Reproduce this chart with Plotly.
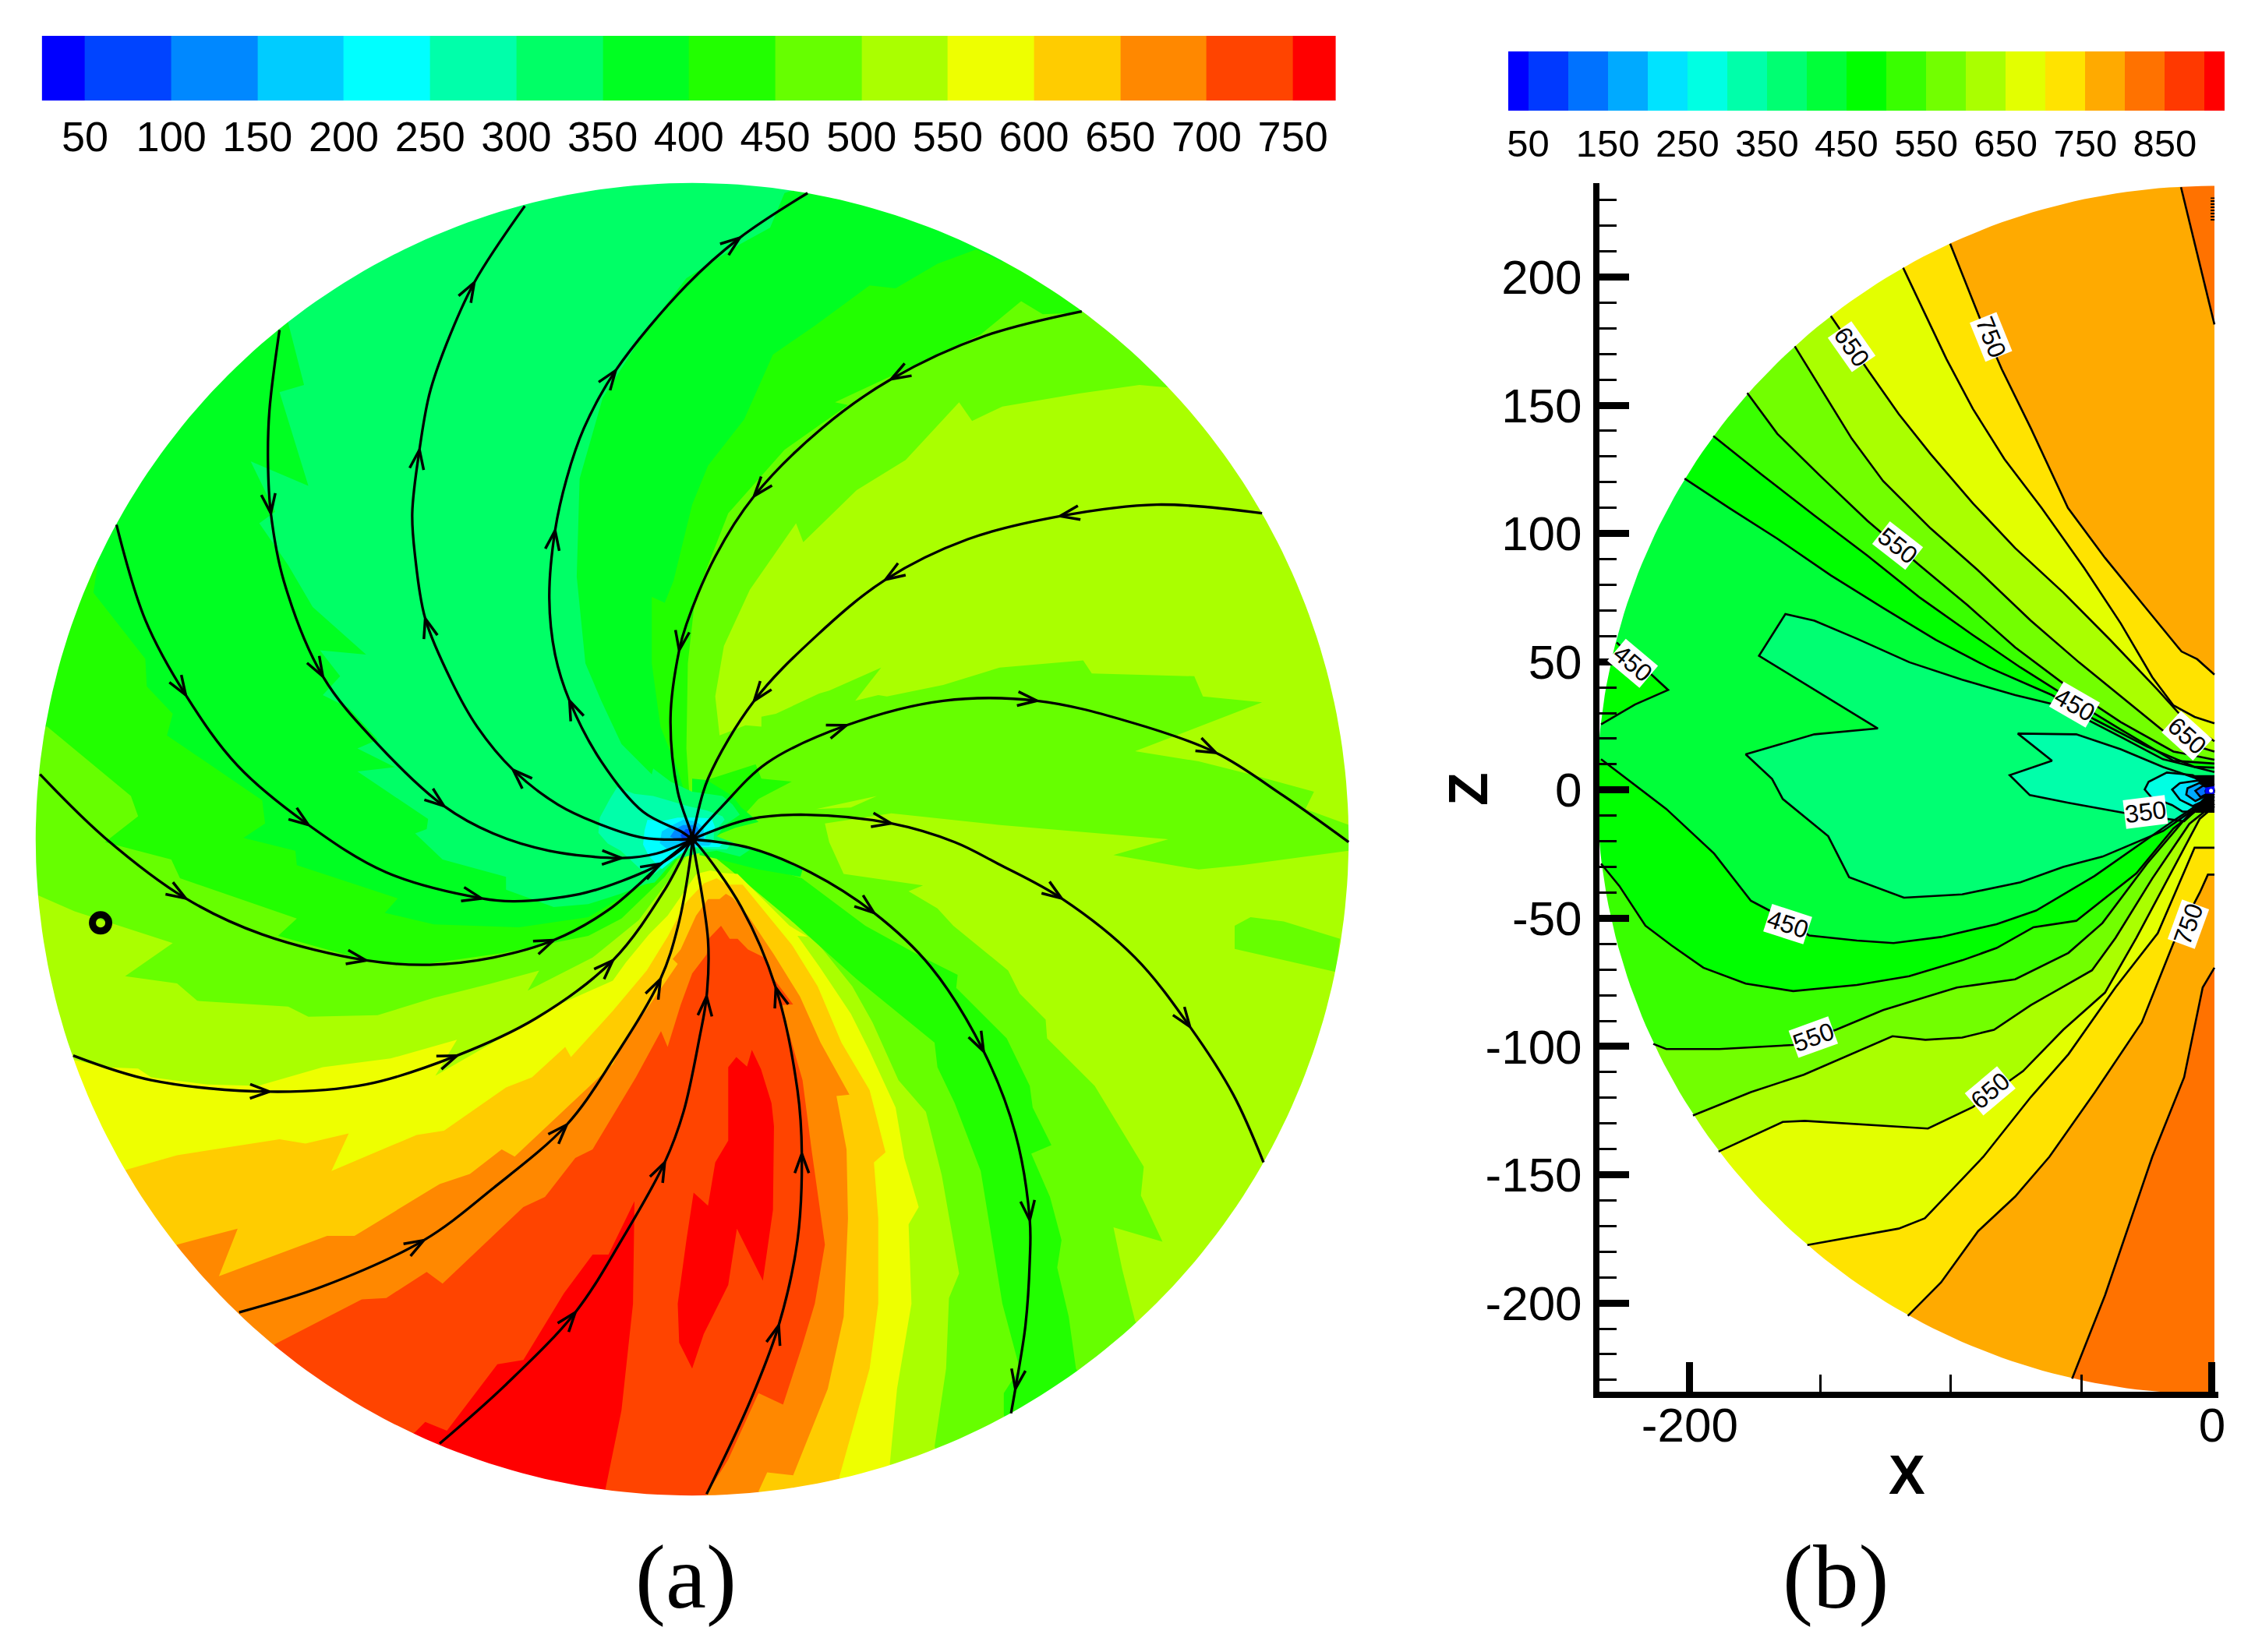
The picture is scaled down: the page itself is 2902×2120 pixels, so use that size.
import numpy as np
import plotly.graph_objects as go

W, H = 2902, 2120

# ---------- colour bars ----------
LEFT_LEVELS = [25] + list(range(50, 800, 50)) + [775]
LEFT_COLORS = ["#0000ff", "#0044ff", "#0088ff", "#00ccff", "#00ffff", "#00ffaa", "#00ff66", "#00ff22",
               "#22ff00", "#66ff00", "#aaff00", "#eeff00", "#ffcc00", "#ff8800", "#ff4400", "#ff0000"]
LEFT_TICKS = list(range(50, 800, 50))
RIGHT_LEVELS = [25] + list(range(50, 950, 50)) + [925]
RIGHT_COLORS = ["#0000ff", "#0039ff", "#0072ff", "#00aaff", "#00e3ff", "#00ffe3", "#00ffaa", "#00ff72",
                "#00ff39", "#00ff00", "#39ff00", "#72ff00", "#aaff00", "#e3ff00", "#ffe300", "#ffaa00",
                "#ff7200", "#ff3900", "#ff0000"]
RIGHT_TICKS = list(range(50, 900, 100))

# ---------- panel (a): regions of the disk, painted in order over a 500-550 base ----------
DISK_RADIUS_A = 455
A_LE_500 = [(0,0),(-1,-8),(-37,-56),(-69,-82),(-114,-105),(-106,-91),(-139,-100),(-179,-110),(-218,-122),(-266,-123),
 (-280,-116),(-343,-112),(-357,-100),(-393,-95),(-360,-72),(-428,-50),(-453,-39),(-520,-40),(-520,520),(380,520),(380,360),
 (331,313),(310,315),(268,309),(215,300),(194,290),(185,303),(148,263),(114,242),(77,206),(72,219),(40,173),(22,134),(16,99),
 (19,72),(37,79),(48,78),(48,85),(58,87),(88,101),(95,103),(131,119),(113,96),(129,100),(135,99),(174,107),(213,119),(271,124),
 (277,115),(348,113),(354,99),(395,95),(307,61),(351,54),(387,45),(431,33),(425,21),(455,10),(520,10),(520,-20),(455,-8),
 (381,-18),(351,-21),(292,-11),(330,0),(212,10),(138,18),(92,11),(95,-2),(105,-24),(160,-32),(150,-36),(170,-48),(181,-60),
 (219,-91),(227,-107),(245,-125),(246,-138),(279,-171),(313,-227),(311,-247),(326,-279),(292,-269),(298,-298),(307,-334),
 (350,-380),(190,-480),(168,-421),(176,-367),(178,-318),(185,-301),(173,-233),(162,-189),(143,-167),(125,-127),(111,-102),
 (91,-77),(75,-59),(57,-42),(37,-24),(13,-11)]
A_PATCH_500 = [(376,-60),(387,-54),(410,-57),(449,-69),(446,-92),(376,-76)]
A_STREAK_550 = [(86,21),(128,30),(110,22)]
A_LE_450_MAIN = [(0,0),(-19,-26),(-49,-55),(-72,-67),(-132,-79),(-188,-87),(-226,-84),(-287,-67),(-274,-55),(-355,-27),(-361,-14),
 (-407,-2),(-384,16),(-389,30),(-447,78),(-520,80),(-520,520),(320,520),(300,400),(270,365),(243,364),(228,373),(200,350),
 (138,321),(99,303),(108,301),(64,270),(25,226),(11,190),(2,167),(-3,122),(-4,63)]
A_LE_450_LOWER = [(0,0),(25,-12),(76,-27),(120,-60),(160,-82),(184,-94),(183,-103),(218,-138),(234,-171),(236,-186),(249,-212),
 (235,-218),(248,-248),(256,-278),(253,-297),(261,-331),(266,-367),(300,-420),(235,-460),(216,-399),(216,-384),(227,-367),
 (215,-322),(200,-230),(182,-183),(170,-158),(168,-141),(114,-97),(67,-55),(25,-20)]
A_LE_450_SPOT = [(3,3),(5,35),(10,41),(19,44),(44,52),(48,42),(69,40),(46,28),(33,13.5),(17,2)]
A_LE_400 = [(0,0),(-40,-35),(-72,-54),(-120,-61),(-179,-59),(-213,-51),(-204,-41),(-274,-18),(-275,-8),(-311,1),(-296,11),(-298,27),
 (-364,72),(-360,87),(-378,106),(-379,125),(-415,171),(-412,190),(-520,190),(-520,520),(220,520),(215,400),(197,409),(170,399),
 (141,382),(123,384),(85,356),(56,336),(48,318),(36,291),(11,259),(0,232),(-13,179),(-19,164),(-28,168),(-28,122),(-22,78),
 (-10,48),(-1,19)]
A_LE_400_NE = [(0,42),(10,41),(28,30),(34,22),(46,12),(30,8),(10,0),(0,0)]
A_LE_400_STREAK = [(6,-6),(42,-6),(76.5,-21),(75,-26),(46,-21),(17,-13.5),(5,-11)]
A_LE_400_TOP = [(-56,451),(-52,441),(-49,451),(-49,470),(-56,470)]
A_LE_350 = [(3,-10),(-4.5,-12),(-12,-14),(-26,-30),(-32,-31),(-50,-38),(-72,-45),(-96,-47),(-129,-35),(-129,-26),(-173,-14),(-192,4),(-184,7),(-183,14),(-232,47),(-206,50),
 (-232,63),(-218,69),(-238,91),(-256,100),(-244,113),(-258,131),(-226,128),(-263,161),(-280,190),(-300,219),(-289,227),
 (-306,262),(-266,245),(-286,310),(-269,315),(-280,358),(-320,420),(-320,520),(70,520),(70,450),(64,448),(54,424),(34,413),
 (-4,389),(-34,350),(-62,306),(-78,250),(-80,182),(-74,122),(-63,96),(-49,66),(-28,45),(-27,49),(-15,40),(0,33),(21,30),(28,24),
 (33,17),(23,10),(17,2),(40.5,-7),(33,-12),(17,-8)]
A_LE_300 = [(-65,4.5),(-64,15),(-57,28),(-52,36),(-40,31.5),(-27,30),(-13.5,26),(-3,23),(10,20),(21,16),(22.5,13.5),(15,4.5),(15,-2),
 (26,-4.5),(24,-7),(13.5,-7),(6,-6),(-6,-7),(-15,-15),(-26,-24),(-35,-21.6),(-49.5,-8),(-58.5,-3)]
A_LE_250 = [(-34,-3.6),(-33,6),(-31,13.5),(-21,12.6),(-10,15),(2.7,15),(13.5,14.4),(16,8),(10,2.7),(8,-1),(21,-2.7),(19,-5.4),(10,-5.4),
 (-1,-5.4),(-10,-11.7),(-21,-20.7),(-30,-11.7)]
A_LE_200 = [(-22.5,-2.7),(-21,5.4),(-13.5,9.9),(-6.3,13.5),(2.7,12.6),(8,8),(8,1),(13.5,-2.7),(11.7,-4.5),(2.7,-4.5),(-8,-4.5),(-17,-7)]
A_LE_150 = [(-15.3,1.8),(-11.7,7),(-6.3,9.9),(2.7,9.9),(5.4,5.4),(2.7,-3.6),(-8,-1.8)]
A_LE_100 = [(-8,2.7),(-4.5,7),(1.8,7),(2.7,2.7),(1.8,-1.8),(-6.3,-0.9)]
A_GE_550 = [(3,-24),(-6,-37),(-17,-53),(-30,-66),(-46,-85.5),(-55,-98),(-93,-115),(-138,-141),(-178,-164),(-163,-139),(-209,-152),(-256,-158),
 (-301,-171),(-336,-170),(-375,-165),(-384,-159),(-407,-158),(-428,-153),(-500,-180),(-500,-520),(160,-520),(160,-480),
 (137,-433),(142,-381),(152,-322),(150,-267),(157,-255),(147,-221),(141,-186),(123,-147),(110,-121),(88,-88),(73,-67),(80,-67.5),
 (67.5,-60),(49.5,-42),(31.5,-24),(21,-23.4),(12.6,-21.6)]
A_GE_600 = [(8,-30.6),(-4.5,-44),(-17,-67.5),(-31.5,-91),(-55,-119),(-84,-151),(-88,-144),(-111,-165),(-129,-172),(-172,-202),(-191,-205),
 (-250,-230),(-238,-204),(-268,-211),(-286,-208),(-357,-219),(-392,-229),(-480,-280),(-480,-520),(120,-520),(110,-480),
 (102,-442),(123,-367),(129,-322),(129,-263),(126,-224),(134,-217),(123,-174),(103.5,-141),(87,-102),(69,-73),(49.5,-49.5),
 (35,-31.5),(24,-31.5),(17,-27)]
A_GE_650 = [(11,-41.4),(2.7,-53),(-8,-76.5),(-13.5,-83),(-10,-86.4),(-33,-120),(-46,-138),(-55,-156),(-90,-189),(-123,-220),(-132,-215),(-154,-232),(-175,-239),(-234,-275),
 (-253,-275),(-328,-303),(-315,-270),(-357,-281),(-420,-330),(-420,-520),(80,-520),(60,-470),(46,-452),(52,-439),(70,-441),
 (94,-381),(105,-331),(108,-263),(107,-215),(100,-178),(109,-177),(89,-141),(74.7,-109),(56.7,-80),(38.7,-53),(28,-40.5),
 (23.4,-37.8),(19,-41.4)]
A_GE_700 = [(12,-68.4),(10,-80),(0,-93),(-8,-115),(-17,-144),(-21.6,-133),(-39,-165),(-69,-215),(-81,-221),(-102,-248),(-117,-255),(-138,-275),(-173,-308),
 (-184,-300),(-212,-318),(-229,-319),(-289,-350),(-330,-400),(-330,-520),(0,-520),(10,-454),(25,-430),(46,-384),(63,-392),
 (76,-352),(85,-322),(92,-281),(83,-217),(76.5,-167),(69,-141),(62,-115),(70,-114.5),(56.7,-97),(50,-82),(38.7,-76.5),
 (31.5,-69),(26,-69),(20,-60)]
A_GE_750_WEST = [(-192,-411),(-185,-404),(-170,-410),(-135,-364),(-117,-361),(-89,-315),(-69,-288),(-58,-288),(-40,-251),(-41,-322),
 (-49,-396),(-60,-450),(-60,-520),(-230,-520),(-230,-440)]
A_GE_750_EAST = [(25,-158),(30.6,-151),(38,-157.6),(41.4,-146),(47.7,-159.4),(55,-183),(56.7,-199),(56,-257),(49,-306),(31,-270),(25,-309),(8,-343),(0,-367),(-9,-349),(-10,-322),
 (-4,-278),(1,-245),(11,-254),(16,-224),(25,-209)]

A_REGIONS = [(A_LE_500, 9), (A_PATCH_500, 9), (A_STREAK_550, 10), (A_LE_450_MAIN, 8), (A_LE_450_LOWER, 8), (A_LE_450_SPOT, 8),
             (A_LE_400, 7), (A_LE_400_NE, 7), (A_LE_400_STREAK, 7), (A_LE_400_TOP, 7), (A_LE_350, 6), (A_LE_300, 5), (A_LE_250, 4),
             (A_LE_200, 3), (A_LE_150, 2), (A_LE_100, 1), (A_GE_550, 11), (A_GE_600, 12), (A_GE_650, 13), (A_GE_700, 14),
             (A_GE_750_WEST, 15), (A_GE_750_EAST, 15)]

# streamlines in flow order, with the indices of the points that carry an arrowhead
STREAMS = [
 ([(0,0),(-34,1),(-63,10),(-93,24),(-124,48),(-149,78),(-167,110),(-185,153),(-192,196),(-194,226),(-189,270),(-182,309),(-170,344),(-151,386),(-116,439)], [4,7,10,13]),
 ([(0,0),(-7,5),(-34,19),(-63,54),(-85,96),(-95,128),(-99,167),(-95,214),(-87,250),(-75,285),(-53,325),(-4,384),(33,417),(80,448)], [4,7,10,12]),
 ([(-286,353),(-293,297),(-294,262),(-292,226),(-283,179),(-256,113),(-218,66),(-172,23),(-138,4),(-99,-8),(-49,-13),(-25,-10),(-4,-2),(0,0)], [3,5,7,10]),
 ([(-399,218),(-379,152),(-351,100),(-315,51),(-266,10),(-212,-23),(-146,-41),(-123,-43),(-78,-38),(-49,-29),(-22,-17),(-4,-4),(0,0)], [2,4,6,10]),
 ([(-452,45),(-407,1),(-351,-41),(-298,-66),(-226,-84),(-182,-87),(-138,-82),(-96,-70),(-58,-49),(-19,-15),(0,0)], [2,4,7]),
 ([(-429,-150),(-375,-167),(-293,-175),(-226,-170),(-163,-150),(-108,-124),(-55,-84),(-19,-35),(-3,-5),(0,0)], [2,4,6]),
 ([(-314,-328),(-256,-310),(-186,-278),(-138,-242),(-87,-198),(-55,-153),(-22,-97),(-10,-61),(-1,-11),(0,0)], [2,4,6]),
 ([(-175,-419),(-129,-378),(-81,-328),(-49,-278),(-19,-224),(-6,-189),(5,-138),(10,-109),(11,-70),(2,-11),(0,0)], [2,4,7]),
 ([(10,-454),(40,-390),(60,-337),(73,-278),(76,-218),(73,-174),(58,-103),(34,-47),(5,-5),(0,0)], [2,4,6]),
 ([(0,0),(40,-6),(82,-23),(126,-51),(165,-88),(202,-147),(224,-204),(234,-264),(234,-292),(231,-337),(224,-381),(221,-398)], [3,5,7,10]),
 ([(0,0),(40,14),(79,17),(138,11),(182,-2),(212,-17),(256,-41),(307,-82),(345,-130),(375,-177),(396,-224)], [3,6,8]),
 ([(0,0),(20,22),(52,53),(107,79),(174,96),(239,96),(301,82),(363,60),(410,30),(455,-2)], [3,5,7]),
 ([(395,226),(322,232),(255,224),(191,208),(134,180),(85,140),(43,96),(11,42),(2,10),(0,0)], [2,4,6]),
 ([(270,366),(203,349),(138,319),(90,285),(43,238),(16,196),(-4,149),(-9,131),(-15,84),(-10,33),(-1,5),(0,0)], [2,4,7]),
]
RING_POINT = (-410, -58)
ARROW_LENGTH = 14.3
ARROW_HALF_ANGLE = np.radians(20)

# ---------- panel (b): contour lines (X, Z), from the rim towards the origin ----------
DISK_RADIUS_B = 235.5
UP_800 = [(-11.9,235),(0.9,181.5)]
LO_800 = [(-53.6,-229.5),(-41,-197),(-22.9,-143),(-10.7,-112),(-3.6,-77),(0.9,-69.3)]
UP_750 = [(-100.3,213),(-93.6,196),(-87.6,180.5),(-80.5,164),(-69.4,141),(-55.2,110),(-41,90.5),(-27,73),(-11.7,54),(-5.7,51),(0.9,45)]
LO_750 = [(-116.5,-205),(-103.8,-192),(-89.6,-172),(-75.4,-158.5),(-62.3,-143),(-45,-118),(-26.9,-90.6),(-14.8,-59.7),(-4.7,-40),(-1.6,-33),(0.9,-33)]
UP_700 = [(-118.3,203.6),(-109.8,185.4),(-101.7,168),(-91.6,148.6),(-79.5,129),(-65.3,110),(-49,86.6),(-35,65),(-22.9,44),(-14.8,33),(-6.7,28.5),(0.9,26)]
LO_700 = [(-155,-177.4),(-136,-174),(-120,-171),(-110,-167),(-87.6,-143),(-69.4,-119.7),(-55,-103),(-37,-77),(-20.8,-55.8),(-9.7,-29.6),(-6.7,-22.5),(0.9,-22.5)]
UP_650 = [(-146,184.8),(-132,164),(-120,146.6),(-107.8,131),(-91.6,111.8),(-75.4,94.3),(-57,77),(-39,58.5),(-20.8,39),(-9.7,26.5),(0.9,19)]
LO_650 = [(-189,-141),(-164.4,-129.4),(-156,-129),(-108.8,-132),(-91.6,-123.6),(-72.4,-109.6),(-57,-93.5),(-41,-79),(-29,-57.7),(-16.8,-34.5),(-4.7,-11.2),(0.9,-6.4)]
UP_600 = [(-159.8,173),(-148,153.4),(-138,137),(-126,120.5),(-107.8,102),(-89.6,85.6),(-69.4,66),(-51,49.8),(-33,35),(-14.8,19.8),(0.9,15)]
LO_600 = [(-198.8,-126.9),(-176.6,-117.8),(-156.4,-111),(-122.4,-96),(-109.8,-97.4),(-95.7,-96.5),(-83.5,-93.5),(-69.4,-83.9),(-46,-70.3),(-37,-57.7),(-22.9,-34.5),(-8.7,-13.2),(0.9,-5.4)]
UP_550 = [(-178,154.8),(-166.5,138.9),(-150,122.4),(-132,105),(-111.9,87.5),(-93.6,72),(-75.4,55.6),(-55,40),(-35,26.5),(-14.8,15),(0.9,11.8)]
LO_550 = [(-214,-99),(-209,-101),(-188.7,-101),(-160.4,-99.4),(-144,-93.5),(-126,-85.8),(-97.7,-77),(-75.4,-73.8),(-55,-63.5),(-42,-51.9),(-24.9,-28.7),(-8.7,-9.3),(0.9,-3.9)]
UP_500 = [(-191,138),(-172.5,123),(-152.3,107),(-132,91.4),(-111.9,75),(-91.6,60.4),(-73.4,47.8),(-55,36),(-35,23.6),(-14.8,11.4),(0.9,10.3)]
LO_500 = [(-234,-28.7),(-227,-37.4),(-217,-52.9),(-207,-60.6),(-194.8,-69.3),(-178.6,-75.5),(-160.4,-78.4),(-136,-76),(-116,-72.6),(-95.7,-66.4),(-82.5,-61.6),(-68.4,-53.5),(-52,-51),(-42,-43),(-29,-32.5),(-14.8,-15),(0.9,-2.5)]
UP_450 = [(-202,121.4),(-184.7,109.8),(-166.5,98),(-146,83.7),(-126,71),(-105.8,58.5),(-85.6,47.8),(-61.3,37),(-45,27.5),(-24.9,16.9),(-6.7,9),(0.9,8.7)]
LO_450 = [(-234,12),(-209,-7.4),(-190.7,-24.8),(-176.6,-43.2),(-169.5,-47),(-154.3,-56.7),(-136,-58.7),(-122,-59.7),(-103.8,-57.3),(-82.5,-52.3),(-67.4,-47),(-45,-33.5),(-14.8,-12),(0.9,-1.5)]
POCKET_450 = [(-234,25.6),(-221,33.3),(-208.3,39),(-228,57.5)]
LOOP_400 = [(0.9,7),(-18.8,12),(-35,20.7),(-46,26.5),(-59,33),(-75.4,37),(-95.7,43),(-115.9,49.8),(-136,59),(-152.3,66),(-163.4,68.6),
 (-173.5,52.3),(-128,24),(-152.3,21.7),(-178.6,13.9),(-168.5,4.3),(-164.4,-3.5),(-147,-18),(-139,-34),(-118,-42),(-95.7,-40.7),
 (-73.4,-36),(-57,-30),(-42,-26),(-18.8,-16),(-6.7,-7.4),(0.9,-0.6)]
LOOP_350 = [(0.9,2),(-2.6,3.3),(-18.8,9),(-35,15.9),(-52,21.7),(-74.4,22),(-61.3,11.4),(-77.5,5.8),(-69.8,-2),(-55,-5),(-34,-8.9),
 (-17.8,-11.2),(-10.7,-12.2),(-2,-4),(0.9,-0.6)]
LOOP_300 = [(0.9,0),(-7.4,5.8),(-17.3,6.8),(-24.3,3.2),(-25.8,0.2),(-23.3,-2.8),(-15.3,-5.9),(-11.4,-8.4),(-7.4,-8.4),(-1.4,-4)]
LOOP_250 = [(0.9,0),(-5.4,3.7),(-12.3,2.7),(-15.3,0.2),(-12.3,-3.8),(-7.4,-6.3),(-4.4,-4.8),(-1.4,-1.8)]
LOOP_200 = [(0.9,0),(-4.9,2.7),(-9.4,0.7),(-9.9,-1.8),(-6.4,-4.3),(-3.4,-2.8)]
LOOP_150 = [(0.9,0),(-3.4,1.7),(-6.4,-0.3),(-4.4,-2.8)]
CORE_DARK = [(-7.4,5.8),(0.9,5.8),(0.9,-8.9),(-6.4,-8.9),(-4.4,-4.8),(-2.4,-2.8),(-2.9,-0.3),(-1.9,1.7),(-6.4,4.2)]
CORE_BLUE = [(-2.6,0.9),(0.9,1.5),(0.9,-1.5),(-2.6,-1.4)]
CORE_SPOT = (-0.4, -0.3)
CONTOUR_LABELS = [("650",-138,172.8,55),("750",-84.5,176.6,68),("550",-120.5,95.3,38),("450",-52.8,33.3,30),("650",-9.7,21.1,42),
                  ("450",-222,49.4,40),("350",-25.5,-8.7,-7),("450",-162.4,-52.3,18),("550",-152.7,-96.5,-20),
                  ("650",-85,-117.4,-40),("750",-9.1,-52.3,-70)]
Z_TICKS = list(range(-200, 250, 50))
X_TICKS = [-200, 0]

# ---------- helpers ----------
def xdom(a, b): return [a / W, b / W]
def ydom(top, bottom): return [1 - bottom / H, 1 - top / H]
def split(points): return [p[0] for p in points], [p[1] for p in points]

def fill_trace(points, color, xa, ya):
    xs, ys = split(points)
    return go.Scatter(x=xs + xs[:1], y=ys + ys[:1], mode="lines", line=dict(width=0, color=color), fill="toself",
                      fillcolor=color, hoverinfo="skip", showlegend=False, xaxis=xa, yaxis=ya)

def line_trace(points, xa, ya, width=2.6):
    xs, ys = split(points)
    return go.Scatter(x=xs, y=ys, mode="lines", line=dict(width=width, color="black"), hoverinfo="skip",
                      showlegend=False, xaxis=xa, yaxis=ya)

def outside(up, lo):
    a, b = up[0], lo[0]
    return up + lo[::-1] + [(b[0] * 1.4, b[1] * 1.4), (-400, -400), (-400, 400), (a[0] * 1.4, a[1] * 1.4)]

def scale_colors(colors):
    n = len(colors)
    out = []
    for i, c in enumerate(colors):
        out += [[i / n, c], [(i + 1) / n, c]]
    return out

fig = go.Figure()

# panel (a)
fig.add_trace(fill_trace([(-520,-520),(520,-520),(520,520),(-520,520)], LEFT_COLORS[10], "x", "y"))
for poly, idx in A_REGIONS:
    fig.add_trace(fill_trace(poly, LEFT_COLORS[idx], "x", "y"))
ang = np.radians(np.arange(225, 225 - 361, -1))
mask_a = [(-540,-540),(540,-540),(540,540),(-540,540),(-540,-540)] + \
         [(DISK_RADIUS_A * np.cos(t), DISK_RADIUS_A * np.sin(t)) for t in ang]
fig.add_trace(fill_trace(mask_a, "#ffffff", "x", "y"))
for pts, arrows in STREAMS:
    xs, ys = split(pts)
    fig.add_trace(go.Scatter(x=xs, y=ys, mode="lines", line=dict(width=3.3, color="black", shape="spline", smoothing=1.0),
                             hoverinfo="skip", showlegend=False, xaxis="x", yaxis="y"))
    bx, by = [], []
    for i in arrows:
        j = min(i + 1, len(pts) - 1)
        back = np.arctan2(ys[i - 1] - ys[j], xs[i - 1] - xs[j])
        for sign in (-1, 1):
            a = back + sign * ARROW_HALF_ANGLE
            bx += [xs[i] + ARROW_LENGTH * np.cos(a), xs[i], None]
            by += [ys[i] + ARROW_LENGTH * np.sin(a), ys[i], None]
    fig.add_trace(go.Scatter(x=bx, y=by, mode="lines", line=dict(width=3.5, color="black"), hoverinfo="skip",
                             showlegend=False, xaxis="x", yaxis="y"))
fig.add_trace(go.Scatter(x=[0], y=[0], mode="markers", hoverinfo="skip", showlegend=False, xaxis="x", yaxis="y",
                         marker=dict(size=13, color="black")))
fig.add_trace(go.Scatter(x=[RING_POINT[0]], y=[RING_POINT[1]], mode="markers", hoverinfo="skip", showlegend=False,
                         xaxis="x", yaxis="y", marker=dict(symbol="circle-open", size=21, color="black", line=dict(width=9, color="black"))))

# panel (b)
C = RIGHT_COLORS
fig.add_trace(fill_trace([(-300,-300),(5,-300),(5,300),(-300,300)], C[16], "x2", "y2"))
for up, lo, idx in [(UP_800, LO_800, 15), (UP_750, LO_750, 14), (UP_700, LO_700, 13), (UP_650, LO_650, 12),
                    (UP_600, LO_600, 11), (UP_550, LO_550, 10), (UP_500, LO_500, 9)]:
    fig.add_trace(fill_trace(outside(up, lo), C[idx], "x2", "y2"))
v450 = UP_450 + LO_450[::-1] + [(-320, 12), (-320, 25.6)] + POCKET_450 + [(-320, 57.5), (-400, 400), (UP_450[0][0] * 1.4, UP_450[0][1] * 1.4)]
fig.add_trace(fill_trace(v450, C[8], "x2", "y2"))
for loop, idx in [(LOOP_400, 7), (LOOP_350, 6), (LOOP_300, 5), (LOOP_250, 4), (LOOP_200, 3), (LOOP_150, 2)]:
    fig.add_trace(fill_trace(loop, C[idx], "x2", "y2"))
ang_b = np.radians(np.arange(270, 89, -1))
mask_b = [(6,-320),(6,320),(-320,320),(-320,-320),(6,-320)] + [(0.9, -DISK_RADIUS_B)] + \
         [(DISK_RADIUS_B * np.cos(t), DISK_RADIUS_B * np.sin(t)) for t in ang_b] + [(0.9, DISK_RADIUS_B), (0.9, -DISK_RADIUS_B)]
fig.add_trace(fill_trace(mask_b, "#ffffff", "x2", "y2"))
for ln in [UP_800, LO_800, UP_750, LO_750, UP_700, LO_700, UP_650, LO_650, UP_600, LO_600, UP_550, LO_550, UP_500, LO_500,
           UP_450, LO_450, POCKET_450, LOOP_400, LOOP_350, LOOP_300 + LOOP_300[:1], LOOP_250 + LOOP_250[:1],
           LOOP_200 + LOOP_200[:1], LOOP_150 + LOOP_150[:1]]:
    fig.add_trace(line_trace(ln, "x2", "y2"))
fig.add_trace(fill_trace(CORE_DARK, "#000000", "x2", "y2"))
fig.add_trace(fill_trace(CORE_BLUE, "#0000ff", "x2", "y2"))
fig.add_trace(go.Scatter(x=[CORE_SPOT[0]], y=[CORE_SPOT[1]], mode="markers", hoverinfo="skip", showlegend=False, xaxis="x2", yaxis="y2",
                         marker=dict(size=5, color="white")))
fig.add_trace(go.Scatter(x=[0.2, 0.2], y=[222, 231], mode="lines", hoverinfo="skip", showlegend=False, xaxis="x2", yaxis="y2",
                         line=dict(width=5, color="black", dash="2px,2px")))

# colour bars
fig.add_trace(go.Heatmap(x=LEFT_LEVELS, y=[0, 1], z=[[i + 0.5 for i in range(len(LEFT_COLORS))]], zmin=0, zmax=len(LEFT_COLORS),
                         colorscale=scale_colors(LEFT_COLORS), showscale=False, hoverinfo="skip", xaxis="x3", yaxis="y3"))
fig.add_trace(go.Heatmap(x=RIGHT_LEVELS, y=[0, 1], z=[[i + 0.5 for i in range(len(RIGHT_COLORS))]], zmin=0, zmax=len(RIGHT_COLORS),
                         colorscale=scale_colors(RIGHT_COLORS), showscale=False, hoverinfo="skip", xaxis="x4", yaxis="y4"))

SANS = "Liberation Sans"
SERIF = "Liberation Serif"
hidden = dict(visible=False, showgrid=False, zeroline=False)
def page_text(text, px, py, family, size, angle=0):
    return dict(text=text, x=px / W, y=1 - py / H, xref="paper", yref="paper", showarrow=False, xanchor="center", yanchor="middle",
                textangle=angle, font=dict(family=family, size=size, color="black"))
annotations = [page_text("(a)", 880, 2023, SERIF, 117), page_text("(b)", 2355, 2023, SERIF, 117),
               page_text("<b>X</b>", 2446, 1893, SANS, 70), page_text("<b>Z</b>", 1884, 1013, SANS, 70, -90)]
for txt, x, y, rot in CONTOUR_LABELS:
    annotations.append(dict(text=txt, x=x, y=y, xref="x2", yref="y2", showarrow=False, textangle=rot, bgcolor="white", borderpad=0,
                            font=dict(family=SANS, size=32, color="black")))

fig.update_layout(
    width=W, height=H, margin=dict(l=0, r=0, t=0, b=0, autoexpand=False), paper_bgcolor="white", plot_bgcolor="white", showlegend=False,
    annotations=annotations,
    xaxis=dict(domain=xdom(18, 1758), range=[-470, 470], anchor="y", **hidden),
    yaxis=dict(domain=ydom(207, 1947), range=[-470, 470], anchor="x", **hidden),
    xaxis2=dict(domain=xdom(2052, 2846), range=[-234.6, 2.4], anchor="y2", showgrid=False, zeroline=False, showline=True, linewidth=8, linecolor="black",
                tickmode="array", tickvals=X_TICKS, ticktext=[str(v) for v in X_TICKS], ticks="inside", ticklen=38, tickwidth=9, tickcolor="black",
                ticklabelstandoff=-18, tickfont=dict(family=SANS, size=62, color="black"),
                minor=dict(tickmode="linear", tick0=0, dtick=50, ticks="inside", ticklen=22, tickwidth=3, tickcolor="black")),
    yaxis2=dict(domain=ydom(235, 1786), range=[-234.6, 236.6], anchor="x2", showgrid=False, zeroline=False, showline=True, linewidth=8, linecolor="black",
                tickmode="array", tickvals=Z_TICKS, ticktext=[str(v) for v in Z_TICKS], ticks="inside", ticklen=38, tickwidth=9, tickcolor="black",
                ticklabelstandoff=2, tickfont=dict(family=SANS, size=62, color="black"),
                minor=dict(tickmode="linear", tick0=0, dtick=10, ticks="inside", ticklen=22, tickwidth=3, tickcolor="black")),
    xaxis3=dict(domain=xdom(53.6, 1714), range=[25, 775], anchor="y3", showgrid=False, zeroline=False, tickmode="array", tickvals=LEFT_TICKS,
                ticks="", ticklabelstandoff=10, tickfont=dict(family=SANS, size=54, color="black")),
    yaxis3=dict(domain=ydom(46, 129), range=[0, 1], anchor="x3", **hidden),
    xaxis4=dict(domain=xdom(1935, 2854), range=[25, 925], anchor="y4", showgrid=False, zeroline=False, tickmode="array", tickvals=RIGHT_TICKS,
                ticks="", ticklabelstandoff=9, tickfont=dict(family=SANS, size=49, color="black")),
    yaxis4=dict(domain=ydom(66, 142), range=[0, 1], anchor="x4", **hidden),
)
fig.write_html("out.html", config=dict(displayModeBar=False), post_script="document.body.style.margin='0';")
